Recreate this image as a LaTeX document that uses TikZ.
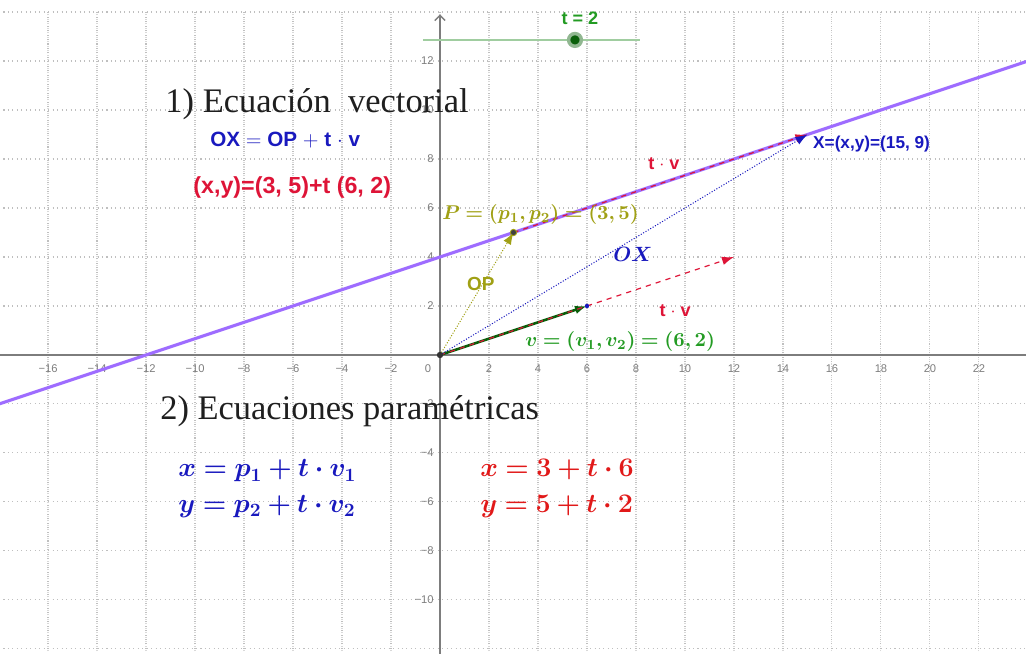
\RequirePackage{fix-cm}
\documentclass[tikz,border=0pt]{standalone}
\usepackage{amsmath,bm}
\usepackage{fontspec}
\setmainfont{Liberation Serif}
\newfontfamily\ggsans{Liberation Sans}
\usetikzlibrary{arrows.meta}
\definecolor{lineviolet}{RGB}{158,108,255}
\definecolor{ggolive}{RGB}{160,160,20}
\definecolor{ggblue}{RGB}{25,25,190}
\definecolor{ggred}{RGB}{222,20,55}
\definecolor{ggmathred}{RGB}{225,25,25}
\definecolor{gggreen}{RGB}{35,155,35}
\definecolor{ggdkgreen}{RGB}{10,95,10}
\definecolor{ggslider}{RGB}{160,205,160}
\definecolor{ggaxis}{RGB}{125,125,125}

\begin{document}
\begin{tikzpicture}[x=0.5cm, y=0.5cm,
    ticklabel/.style={inner sep=0pt, text=ggaxis, font=\fontsize{6.5}{7}\selectfont\ggsans},
    titletext/.style={inner sep=0pt, anchor=base west, text={black!88}, font=\fontsize{20}{22}\selectfont},
    sanslabel/.style={inner sep=0pt, font=\fontsize{10.5}{12}\selectfont\ggsans\bfseries},
    mathlabel/.style={inner sep=0pt, anchor=base west, font=\fontsize{11.6}{13}\selectfont},
    paramtext/.style={inner sep=0pt, anchor=base west, font=\fontsize{15.6}{18}\selectfont},
    vec/.style={-{Latex[length=7pt,width=5pt]}}
    ]
    \useasboundingbox (-17.96,-12.2) rectangle (23.92,14.49);
    \clip (-17.96,-12.2) rectangle (23.92,14.49);

    \draw[gray!30, dotted, line width=0.6pt] (-18,-13) grid (24,14);
    \draw[gray!50, dotted, line width=0.6pt] (-18,-12) grid[step=2] (24,14);
    \draw[ggaxis, line width=0.8pt] (-18,0) -- (24,0);
    \draw[ggaxis, line width=0.8pt, -{Straight Barb[length=3pt]}] (0,-12.3) -- (0,13.9);

    \foreach \n in {2,4,...,22} {
        \node[ticklabel] (xp\n) at (\n,-0.55) {\n};
    }
    \foreach \n in {2,4,...,16} {
        \node[ticklabel] (xn\n) at (-\n,-0.55) {−\n};
    }
    \foreach \n in {2,4,...,12} {
        \node[ticklabel, anchor=east] (yp\n) at (-0.25,\n) {\n};
    }
    \foreach \n in {2,4,...,10} {
        \node[ticklabel, anchor=east] (yn\n) at (-0.25,-\n) {−\n};
    }
    \node[ticklabel] (zero) at (-0.49,-0.55) {0};

    \coordinate (O) at (0,0);
    \coordinate (P) at (3,5);
    \coordinate (X) at (15,9);
    \coordinate (V) at (6,2);
    \coordinate (TV) at (12,4);
    \coordinate (Lw) at (-18,-2);
    \coordinate (Le) at (24,12);
    \coordinate (Sa) at (-0.7,12.86);
    \coordinate (Sb) at (8.16,12.86);

    \draw[ggslider, line width=0.8pt] (Sa) -- (Sb);
    \node[circle, fill=ggdkgreen, draw=ggdkgreen!45, line width=2pt,
        minimum size=0.26cm, inner sep=0pt] (knob) at (5.51,12.86) {};

    \draw[lineviolet, line width=1.8pt] (Lw) -- (Le);

    \draw[vec, ggdkgreen, line width=1.5pt] (O) -- (V);
    \draw[vec, ggred, line width=0.7pt, dash pattern=on 3pt off 3pt] (O) -- (TV);
    \draw[vec, ggred, line width=0.7pt, dash pattern=on 3pt off 3pt] (P) -- (X);
    \draw[vec, ggolive, line width=0.6pt, densely dotted] (O) -- (P);
    \draw[vec, ggblue, line width=0.6pt, densely dotted] (O) -- (X);

    \fill[black!80] (O) circle (0.13);
    \filldraw[fill=black!75, draw=ggolive, line width=0.5pt] (P) circle (0.13);
    \fill[ggblue] (V) circle (0.09);

    \node[titletext] (vectitle) at (-11.22,9.88) {1) Ecuación\ \ vectorial};
    \node[sanslabel, anchor=base west, text=ggblue, font=\fontsize{12}{14}\selectfont\ggsans\bfseries]
        (vecform) at (-9.39,8.53) {OX $=$ OP $+$ t $\cdot$ v};
    \node[sanslabel, anchor=base west, text=ggred, font=\fontsize{13.5}{15}\selectfont\ggsans\bfseries]
        (vecdata) at (-10.08,6.61) {(x,y)=(3, 5)+t (6, 2)};
    \node[titletext] (paramtitle) at (-11.43,-2.65) {2) Ecuaciones paramétricas};

    \node[paramtext, text=ggblue] (parxgen) at (-10.69,-4.98) {$\bm{x = p_1 + t\cdot v_1}$};
    \node[paramtext, text=ggblue] (parygen) at (-10.69,-6.41) {$\bm{y = p_2 + t\cdot v_2}$};
    \node[paramtext, text=ggmathred] (parxnum) at (1.63,-4.98) {$\bm{x = 3 + t\cdot 6}$};
    \node[paramtext, text=ggmathred] (parynum) at (1.63,-6.41) {$\bm{y = 5 + t\cdot 2}$};

    \node[mathlabel, text=ggolive] (plabel) at (0.08,5.51) {$\bm{P = (p_1, p_2) = (3, 5)}$};
    \node[mathlabel, text=ggblue, font=\fontsize{12}{14}\selectfont] (oxlabel) at (7.06,3.8) {$\bm{OX}$};
    \node[mathlabel, text=gggreen] (vlabel) at (3.47,0.33) {$\bm{v = (v_1, v_2) = (6, 2)}$};

    \node[sanslabel, text=ggred] (tvtop) at (9.14,7.8) {t $\cdot$ v};
    \node[sanslabel, text=ggred] (tvlow) at (9.6,1.8) {t $\cdot$ v};
    \node[sanslabel, text=ggolive, font=\fontsize{11}{13}\selectfont\ggsans\bfseries] (oplabel) at (1.67,2.9) {OP};
    \node[sanslabel, anchor=west, text=ggblue, font=\fontsize{10}{12}\selectfont\ggsans\bfseries]
        (xlabel) at (15.22,8.6) {X=(x,y)=(15, 9)};
    \node[sanslabel, text=gggreen] (tslider) at (5.71,13.76) {t = 2};
\end{tikzpicture}
\end{document}
